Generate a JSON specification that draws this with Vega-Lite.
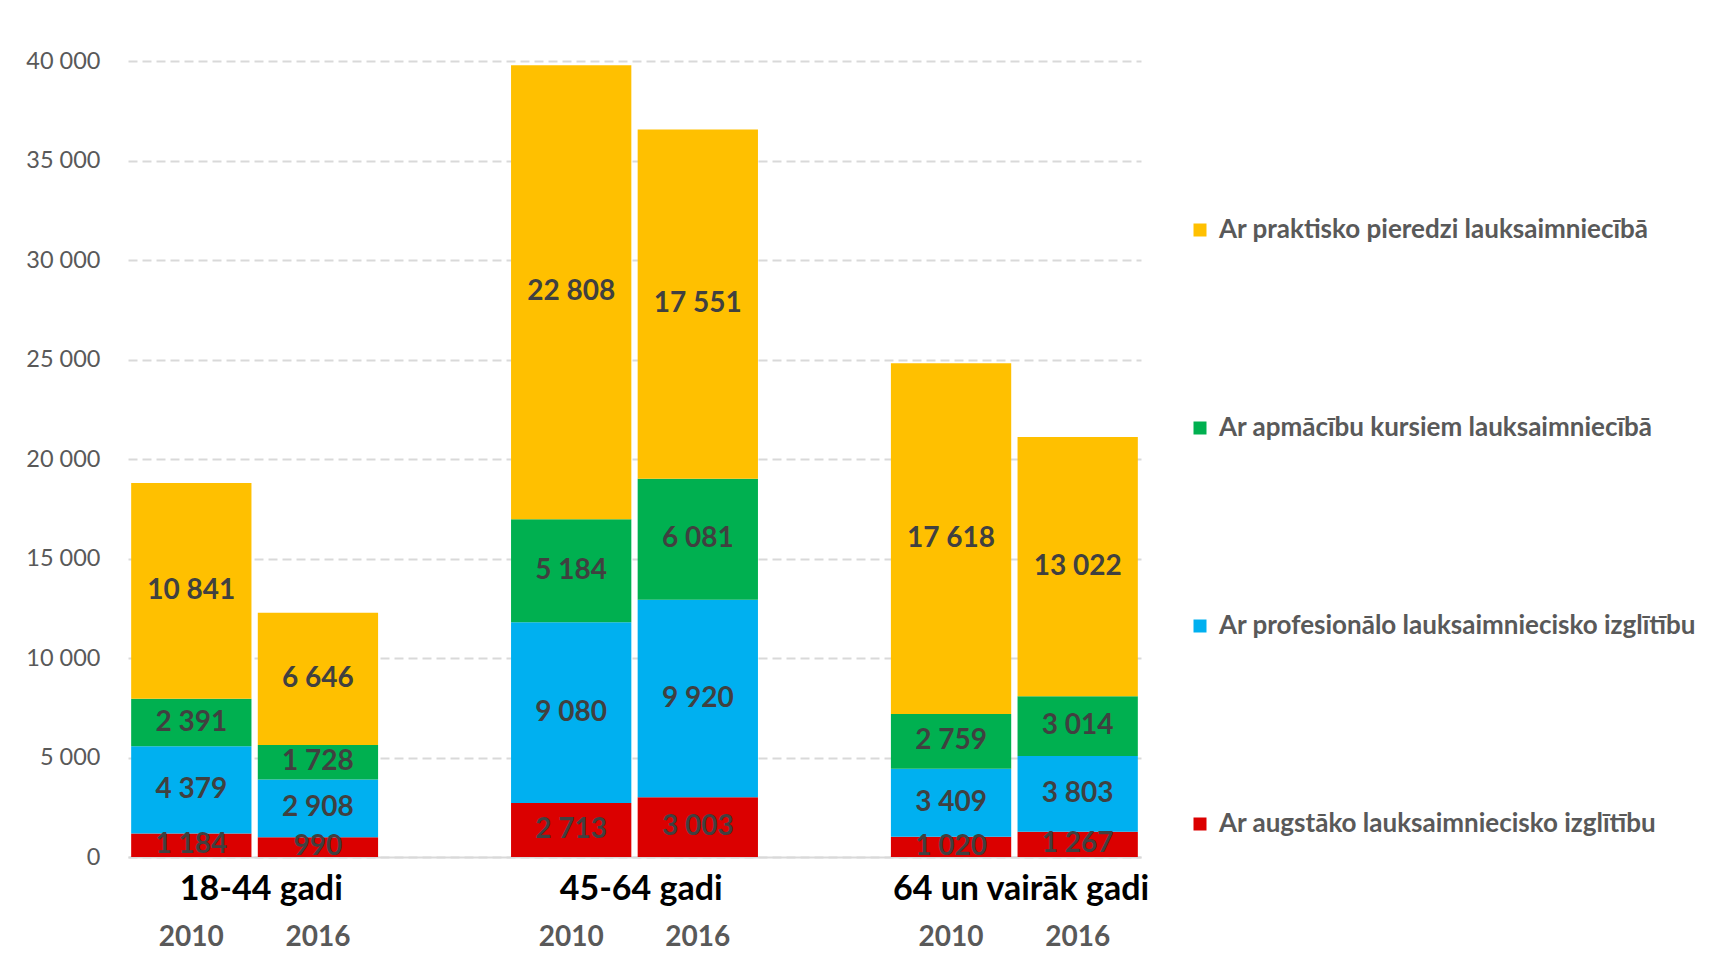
{
  "$schema": "https://vega.github.io/schema/vega-lite/v6.json",
  "width": 1013,
  "height": 796,
  "padding": {"left": 25, "top": 49, "right": 10, "bottom": 10},
  "background": "white",
  "config": {
    "view": {"stroke": null},
    "font": "Lato"
  },
  "datasets": {
    "bars": [
      {"slot": "18-44 gadi|2010", "category": "Ar augstāko lauksaimniecisko izglītību", "rank": 1, "value": 1184},
      {"slot": "18-44 gadi|2010", "category": "Ar profesionālo lauksaimniecisko izglītību", "rank": 2, "value": 4379},
      {"slot": "18-44 gadi|2010", "category": "Ar apmācību kursiem lauksaimniecībā", "rank": 3, "value": 2391},
      {"slot": "18-44 gadi|2010", "category": "Ar praktisko pieredzi lauksaimniecībā", "rank": 4, "value": 10841},
      {"slot": "18-44 gadi|2016", "category": "Ar augstāko lauksaimniecisko izglītību", "rank": 1, "value": 990},
      {"slot": "18-44 gadi|2016", "category": "Ar profesionālo lauksaimniecisko izglītību", "rank": 2, "value": 2908},
      {"slot": "18-44 gadi|2016", "category": "Ar apmācību kursiem lauksaimniecībā", "rank": 3, "value": 1728},
      {"slot": "18-44 gadi|2016", "category": "Ar praktisko pieredzi lauksaimniecībā", "rank": 4, "value": 6646},
      {"slot": "45-64 gadi|2010", "category": "Ar augstāko lauksaimniecisko izglītību", "rank": 1, "value": 2713},
      {"slot": "45-64 gadi|2010", "category": "Ar profesionālo lauksaimniecisko izglītību", "rank": 2, "value": 9080},
      {"slot": "45-64 gadi|2010", "category": "Ar apmācību kursiem lauksaimniecībā", "rank": 3, "value": 5184},
      {"slot": "45-64 gadi|2010", "category": "Ar praktisko pieredzi lauksaimniecībā", "rank": 4, "value": 22808},
      {"slot": "45-64 gadi|2016", "category": "Ar augstāko lauksaimniecisko izglītību", "rank": 1, "value": 3003},
      {"slot": "45-64 gadi|2016", "category": "Ar profesionālo lauksaimniecisko izglītību", "rank": 2, "value": 9920},
      {"slot": "45-64 gadi|2016", "category": "Ar apmācību kursiem lauksaimniecībā", "rank": 3, "value": 6081},
      {"slot": "45-64 gadi|2016", "category": "Ar praktisko pieredzi lauksaimniecībā", "rank": 4, "value": 17551},
      {"slot": "64 un vairāk gadi|2010", "category": "Ar augstāko lauksaimniecisko izglītību", "rank": 1, "value": 1020},
      {"slot": "64 un vairāk gadi|2010", "category": "Ar profesionālo lauksaimniecisko izglītību", "rank": 2, "value": 3409},
      {"slot": "64 un vairāk gadi|2010", "category": "Ar apmācību kursiem lauksaimniecībā", "rank": 3, "value": 2759},
      {"slot": "64 un vairāk gadi|2010", "category": "Ar praktisko pieredzi lauksaimniecībā", "rank": 4, "value": 17618},
      {"slot": "64 un vairāk gadi|2016", "category": "Ar augstāko lauksaimniecisko izglītību", "rank": 1, "value": 1267},
      {"slot": "64 un vairāk gadi|2016", "category": "Ar profesionālo lauksaimniecisko izglītību", "rank": 2, "value": 3803},
      {"slot": "64 un vairāk gadi|2016", "category": "Ar apmācību kursiem lauksaimniecībā", "rank": 3, "value": 3014},
      {"slot": "64 un vairāk gadi|2016", "category": "Ar praktisko pieredzi lauksaimniecībā", "rank": 4, "value": 13022}
    ],
    "groups": [
      {"slot": "18-44 gadi|2010", "group": "18-44 gadi"},
      {"slot": "45-64 gadi|2010", "group": "45-64 gadi"},
      {"slot": "64 un vairāk gadi|2010", "group": "64 un vairāk gadi"}
    ]
  },
  "layer": [
    {
      "data": {"name": "bars"},
      "mark": {"type": "bar"},
      "encoding": {
        "x": {
          "field": "slot",
          "type": "nominal",
          "scale": {
            "domain": ["18-44 gadi|2010", "18-44 gadi|2016", "gap1", "45-64 gadi|2010", "45-64 gadi|2016", "gap2", "64 un vairāk gadi|2010", "64 un vairāk gadi|2016"],
            "paddingInner": 0.05,
            "paddingOuter": 0.025
          },
          "axis": {
            "orient": "bottom",
            "title": null,
            "labelAngle": 0,
            "labelExpr": "indexof(datum.value, '|') < 0 ? '' : split(datum.value, '|')[1]",
            "labelFont": "Lato",
            "labelFontWeight": "bold",
            "labelFontSize": 28,
            "labelColor": "#595959",
            "labelPadding": 66,
            "domainColor": "#d9d9d9",
            "domainWidth": 2,
            "ticks": false
          }
        },
        "y": {
          "field": "value",
          "type": "quantitative",
          "stack": "zero",
          "scale": {"domain": [0, 40000], "nice": false},
          "axis": {
            "title": null,
            "values": [0, 5000, 10000, 15000, 20000, 25000, 30000, 35000, 40000],
            "labelExpr": "datum.value >= 1000 ? toString(floor(datum.value / 1000)) + ' ' + substring(toString(datum.value), length(toString(datum.value)) - 3) : toString(datum.value)",
            "domain": false,
            "ticks": false,
            "labelPadding": 28,
            "labelFont": "Lato",
            "labelFontSize": 23.5,
            "labelColor": "#595959",
            "grid": true,
            "gridColor": "#d9d9d9",
            "gridWidth": 2,
            "gridDash": [9, 5]
          }
        },
        "order": {"field": "rank", "type": "quantitative"},
        "color": {
          "field": "category",
          "type": "nominal",
          "scale": {
            "domain": ["Ar praktisko pieredzi lauksaimniecībā", "Ar apmācību kursiem lauksaimniecībā", "Ar profesionālo lauksaimniecisko izglītību", "Ar augstāko lauksaimniecisko izglītību"],
            "range": ["#FFC000", "#00B050", "#00B0F0", "#DB0000"]
          },
          "legend": {
            "title": null,
            "orient": "none",
            "legendX": 1059,
            "legendY": 156,
            "symbolType": "square",
            "symbolSize": 169,
            "symbolStrokeWidth": 0,
            "labelFont": "Lato",
            "labelFontWeight": "bold",
            "labelFontSize": 26,
            "labelColor": "#595959",
            "labelOffset": 6,
            "labelLimit": 700,
            "rowPadding": 172,
            "padding": 0
          }
        }
      }
    },
    {
      "data": {"name": "bars"},
      "mark": {"type": "text", "font": "Lato", "fontWeight": "bold", "fontSize": 28, "color": "#404040", "baseline": "middle", "text": {"expr": "datum.value >= 1000 ? toString(floor(datum.value / 1000)) + ' ' + substring(toString(datum.value), length(toString(datum.value)) - 3) : toString(datum.value)"}},
      "encoding": {
        "x": {"field": "slot", "type": "nominal"},
        "y": {"field": "value", "type": "quantitative", "stack": "zero", "bandPosition": 0.5},
        "order": {"field": "rank", "type": "quantitative"}
      }
    },
    {
      "data": {"name": "groups"},
      "mark": {"type": "text", "font": "Lato", "fontWeight": "bold", "fontSize": 34, "color": "#000000", "baseline": "middle", "dx": 70, "dy": 33},
      "encoding": {
        "x": {"field": "slot", "type": "nominal"},
        "y": {"datum": 0, "type": "quantitative"},
        "text": {"field": "group", "type": "nominal"}
      }
    }
  ]
}
